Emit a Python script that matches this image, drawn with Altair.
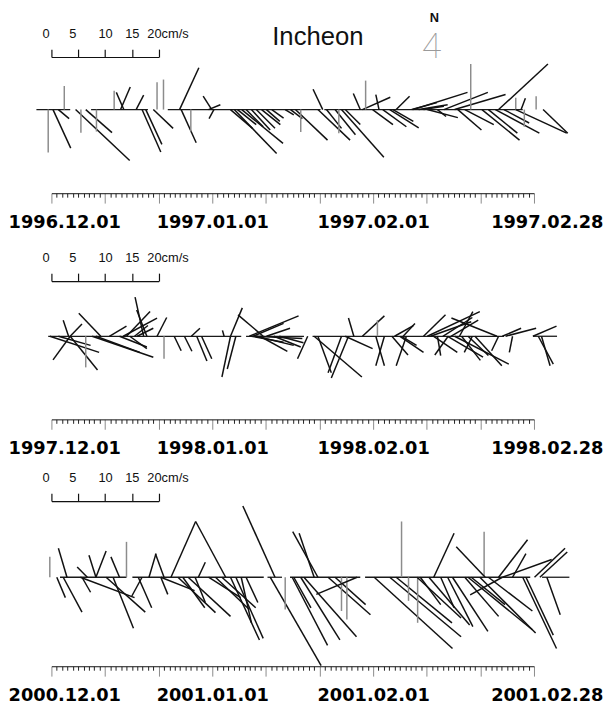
import altair as alt
import pandas as pd

# ---------------- data (days since 1 Dec, east / north components in cm/s) -------------
# Panel 1 : 1996.12.01 - 1997.02.28
p1_day = [-0.6, 0.3, 1.3, 2.4, 4.5, 5.5, 6.4, 8.4, 11.7, 12.9, 13.5, 15.8, 16.9, 17.6, 19.0, 19.7,
          20.9, 23.9, 24.2, 26.0, 29.3, 29.9, 30.3, 33.4, 34.1, 34.7, 35.5, 36.3, 37.3, 38.2, 39.2,
          40.1, 41.1, 43.6, 44.6, 45.5, 46.5, 49.7, 50.6, 51.3, 52.9, 53.6, 54.1, 54.8, 57.6, 58.0,
          58.6, 59.9, 61.1, 61.8, 63.1, 63.7, 64.3, 67.2, 67.5, 68.5, 69.4, 70.1, 72.0, 73.2, 75.2,
          75.8, 77.1, 78.2, 80.3, 81.5, 82.8, 83.4, 84.4, 86.6, 86.6, 87.6, 88.2, 90.4, 91.7]
p1_u = [0, 3.3, 2.0, 0, 10.1, 0, 4.9, 0, 0, 1.8, -1.4, 1.4, 3.5, 3.0, 3.7, 0,
        0, 3.6, 2.8, 0, 2.2, -1.6, -0.9, 4.1, 7.9, 3.5, 7.7, 3.2, 3.5, 3.5, 3.5,
        2.5, 2.2, 1.6, 2.2, 6.0, 0, 6.0, -1.8, 2.8, 3.8, 0, 7.9, 2.8, -1.3, 5.2,
        0, 3.8, -0.6, 4.4, 5.4, 3.8, 2.5, 4.7, 10.1, 5.4, 3.8, 5.7, 1.6, 8.2, 9.5,
        4.4, 5.4, 0, 7.0, 5.4, 8.2, 9.2, 4.7, 0, 9.5, 0.8, 0, 0, 4.6]
p1_v = [-8.0, -7.2, -1.7, 4.4, -9.5, -4.3, -4.3, -4.1, 3.5, 4.2, 3.2, 2.7, -7.9, -6.5, -3.5, 5.1,
        5.6, 7.8, -6.2, -4.1, 0.9, 2.5, -1.7, -3.5, -8.2, -2.8, -6.3, -3.2, -3.8, -3.5, -2.8,
        -2.2, -1.6, -1.0, -1.7, -5.7, -4.2, -5.7, 3.8, -3.5, -4.7, -4.4, -8.9, -2.8, 3.0, 2.3,
        5.4, -2.8, 2.8, -3.2, -3.4, -2.2, 2.5, 1.3, 3.2, 0.9, 0.6, -1.5, -1.3, 3.2, 2.8,
        -3.8, -2.8, 8.5, -5.7, -4.4, -4.4, 8.5, -2.5, 2.2, -4.4, 2.1, -3.2, 2.5, -4.4]
p1_base_start = [-2.8, 7.4, 21.7, 50.9]
p1_base_end = [3.5, 18.0, 50.2, 87.9]
p1_labels = ["1996.12.01", "1997.01.01", "1997.02.01", "1997.02.28"]
p1_range = [-15.6, 9.8]

# Panel 2 : 1997.12.01 - 1998.02.28
p2_day = [-0.3, 1.3, 3.2, 3.5, 3.5, 3.5, 6.4, 7.6, 8.3, 9.2, 10.8, 12.7, 13.4, 14.0, 14.6, 17.2,
          17.8, 19.7, 21.0, 22.9, 24.8, 26.1, 27.1, 28.0, 32.2, 33.4, 34.4, 33.4, 39.5, 36.9,
          37.6, 37.3, 38.2, 38.9, 40.1, 37.9, 47.8, 49.0, 49.7, 54.1, 55.4, 54.8, 56.4, 58.0,
          60.8, 60.5, 62.1, 65.0, 66.2, 65.6, 65.3, 69.4, 70.1, 70.7, 74.5, 76.1, 71.3, 72.0,
          73.9, 75.2, 77.7, 83.1, 83.4, 86.0, 84.1, 84.7, 89.8, 90.8, 91.4,
          15.5, 16.0, 41.5, 42.5, 63.5, 64.0, 73.0, 74.0, 76.5, 78.5, 79.0]
p2_u = [9.2, 6.0, -1.0, -3.2, 2.2, 5.1, 0, 11.4, 8.2, -4.1, 3.2, 5.1, 6.3, 4.4, 3.2, -1.6,
        -1.9, 1.8, 0, 1.3, 1.4, 1.6, 1.9, 1.9, -0.3, -1.6, -1.6, 2.2, -4.7, 9.2,
        5.7, 6.0, 7.0, 5.1, 4.4, 8.9, -1.9, 8.9, 2.5, -2.5, -3.2, 5.1, -1.0, 4.1,
        0, 1.6, -1.6, 4.4, -1.9, 2.2, 2.8, 4.1, 9.8, 7.6, 5.1, 2.5, 4.4, 0.6,
        6.6, 10.1, 3.8, -8.5, -1.3, -0.6, 3.5, 5.7, 4.4, 2.8, 1.6,
        2.5, 3.0, 5.0, 4.5, 3.0, 3.5, 5.5, -2.5, 3.5, -1.5, 5.0]
p2_v = [-3.0, -1.7, 3.0, -4.4, 2.3, -6.3, -5.8, -3.9, -3.0, 4.3, 1.9, -2.0, 3.4, 4.6, -2.3, 7.3,
        4.9, 3.5, -4.2, -2.7, -2.8, 1.5, -4.6, -4.2, 1.1, -7.6, -6.1, 5.3, 4.0, 3.8,
        2.4, -1.1, -1.7, -2.8, 1.5, -0.4, -4.2, -7.6, -6.8, -6.8, -7.8, -2.3, 3.4, 3.8,
        3.0, -5.5, -5.5, -3.0, -5.5, 2.4, -1.7, 4.0, 4.6, 2.7, 3.0, 4.6, -3.0, -3.6,
        -3.9, -5.2, -3.6, 3.4, -2.7, -3.0, 1.5, 1.5, 1.9, -5.2, -5.5,
        2.0, 1.5, -2.0, -1.2, -3.5, 2.0, 3.5, -3.5, -4.5, -3.0, -5.5]
p2_base_start = [-0.6, 36.3, 48.7, 89.8]
p2_base_end = [35.4, 47.1, 84.4, 94.3]
p2_labels = ["1997.12.01", "1998.01.01", "1998.02.01", "1998.02.28"]
p2_range = [-15.5, 10.3]

# Panel 3 : 2000.12.01 - 2001.02.28
p3_day = [-0.3, 1.0, 2.2, 2.9, 5.4, 5.7, 6.7, 8.3, 8.3, 10.2, 11.5, 12.7, 14.0, 16.9, 16.2, 18.2,
          21.0, 20.4, 20.4, 22.3, 32.5, 27.4, 23.6, 24.5, 25.5, 26.8, 29.3, 30.6, 31.8, 33.4,
          34.4, 35.4, 36.3, 40.8, 41.7, 43.6, 44.9, 45.2, 46.5, 47.1, 49.0, 49.7, 51.6, 52.9,
          54.1, 55.1, 57.0, 60.2, 63.1, 64.3, 65.3, 66.6, 68.3, 68.2, 68.8, 70.4, 71.3, 72.6,
          73.9, 74.8, 77.1, 77.7, 78.3, 79.9, 80.7, 80.9, 81.5, 83.4, 84.1, 84.1, 86.0, 87.9,
          88.5, 90.1, 91.1, 92.4]
p3_u = [0, 1.6, 3.5, -1.6, 10.1, 1.6, -1.9, -1.3, 1.9, 7.3, 3.8, -1.6, 0, -1.9, 2.5, 1.3,
        -1.6, 1.3, 6.3, 4.6, -5.6, 1.3, 7.0, 4.1, 7.9, 1.9, 6.0, 6.3, 6.3, 5.4,
        5.1, 1.9, 2.2, 9.5, -6.0, 0, 6.6, 3.2, 7.3, 9.8, -2.8, -4.7, 7.9, 5.7,
        0, 0, -7.6, 14.6, 13.3, 10.4, 0, 0, 0, 8.2, 3.8, 7.6, 3.8, 2.5,
        4.7, 6.6, 6.3, 12.0, 6.3, 10.4, 0, -5.4, 8.2, 5.4, 9.2, -6.0, 2.5, 6.3,
        5.1, 5.7, 5.1, 2.5]
p3_v = [3.8, -3.8, -6.5, 5.4, -3.8, -2.8, 1.9, 4.1, 4.9, -6.5, -9.5, 3.8, 6.6, -3.5, -5.7, 4.4,
        4.4, -3.2, -2.5, 10.4, 10.4, 2.8, -6.6, -5.7, -7.3, -4.7, -3.8, -6.0, -5.7, -11.7,
        -11.4, -8.5, -4.7, -16.5, 13.3, -6.0, -12.7, -5.7, -11.7, -11.1, 8.2, 8.5, -7.0, -5.1,
        -6.3, -7.9, -3.2, -13.3, -11.1, -8.5, 10.4, -4.4, -8.5, -7.6, -5.1, -8.9, 8.2, -5.7,
        -9.2, -10.1, -7.3, -9.8, -5.1, -10.4, 8.5, 5.7, -6.3, 7.0, 3.3, -3.3, 4.4, -13.3,
        -10.8, 5.4, 4.7, -7.0]
p3_base_start = [1.6, 15.1, 40.3, 44.5, 58.5, 91.5]
p3_base_end = [14.0, 39.6, 43.0, 57.6, 89.3, 96.6]
p3_labels = ["2000.12.01", "2001.01.01", "2001.02.01", "2001.02.28"]
p3_range = [-16.6, 14.2]

label_days = [0, 30, 60, 90]
scale_ticks = [0, 5, 10, 15, 20]
annot_text = ["Incheon", "N", "4"]

# ---------------- chart -------------------------------------------------------
W = 489
SPAN = 90
PPU = W / SPAN  # same pixel size for one day and one cm/s


def label_expr(labels):
    parts = [f"datum.value === {d} ? '{t}'" for d, t in zip(label_days, labels)]
    return " : ".join(parts) + " : ''"


def panel(day, u, v, bs, be, labels, yr, title=False):
    H = (yr[1] - yr[0]) * PPU
    xs = alt.Scale(domain=[0, SPAN], nice=False, zero=False)
    ys = alt.Scale(domain=yr, nice=False, zero=False)
    major = "datum.value % 10 === 0"
    bottom_axis = alt.Axis(
        values=list(range(0, SPAN + 1)),
        tickSize={"condition": {"test": major, "value": 10}, "value": 4},
        tickColor={"condition": {"test": major, "value": "#8a8a8a"}, "value": "#222222"},
        tickWidth=1,
        domainColor="#111111",
        domainWidth=1,
        labelExpr=label_expr(labels),
        labelOverlap=False,
        labelBound=False,
        labelFlush=False,
        labelFont="DejaVu Sans",
        labelFontSize=18,
        labelFontWeight="bold",
        labelColor="#000000",
        labelOffset={"condition": {"test": "datum.value === 0 || datum.value === 90", "value": 13}, "value": 0},
        labelPadding=11,
        grid=False,
        title=None,
    )
    sticks = alt.Chart(pd.DataFrame({"day": day, "u": u, "v": v})).transform_calculate(
        tip="datum.day + datum.u", zero="0"
    ).mark_rule(strokeWidth=1.5).encode(
        x=alt.X("day:Q", scale=xs, axis=bottom_axis),
        x2="tip:Q",
        y=alt.Y("zero:Q", scale=ys, axis=None),
        y2="v:Q",
        color=alt.condition("datum.u == 0", alt.value("#8c8c8c"), alt.value("#111111")),
    )
    base = alt.Chart(pd.DataFrame({"start": bs, "end": be})).transform_calculate(
        zero="0"
    ).mark_rule(strokeWidth=1.3, color="#1a1a1a").encode(
        x=alt.X("start:Q", scale=xs, axis=bottom_axis),
        x2="end:Q",
        y=alt.Y("zero:Q", scale=ys, axis=None),
    )
    parts = [base, sticks]
    if title:
        adf = pd.DataFrame({"t": annot_text})
        parts.append(alt.Chart(adf).transform_filter("datum.t == 'Incheon'").mark_text(
            font="Liberation Sans", fontSize=26, color="#111111", align="center", baseline="middle"
        ).encode(text="t:N", x=alt.value(270), y=alt.value(-20)))
        parts.append(alt.Chart(adf).transform_filter("datum.t == 'N'").mark_text(
            font="Liberation Sans", fontSize=13, fontWeight="bold", color="#111111", align="center", baseline="middle"
        ).encode(text="t:N", x=alt.value(388), y=alt.value(-40)))
        parts.append(alt.Chart(adf).transform_filter("datum.t == '4'").mark_text(
            font="Roboto", fontSize=36, fontWeight=100, color="#9a9a9a", align="center", baseline="middle"
        ).encode(text="t:N", x=alt.value(385), y=alt.value(-10)))
    inner = alt.layer(*parts)

    top_axis = alt.Axis(
        orient="top",
        values=scale_ticks,
        tickSize=8,
        tickColor="#111111",
        tickWidth=1.2,
        domainColor="#111111",
        domainWidth=1.2,
        labelExpr="datum.value === 20 ? '20cm/s' : datum.label",
        labelAlign={"condition": {"test": "datum.value === 20", "value": "left"}, "value": "center"},
        labelOffset={"condition": [{"test": "datum.value === 20", "value": -12},
                                   {"test": "datum.value < 10", "value": -6}], "value": 0},
        labelFont="Liberation Sans",
        labelFontSize=13,
        labelPadding=9,
        labelColor="#111111",
        labelOverlap=False,
        labelBound=False,
        labelFlush=False,
        grid=False,
        title=None,
    )
    bar = alt.Chart(pd.DataFrame({"cm": scale_ticks})).mark_point(opacity=0).encode(
        x=alt.X("cm:Q", scale=alt.Scale(domain=[0, 20], range=[0, 20 * PPU], nice=False, zero=False),
                axis=top_axis)
    )
    return alt.layer(inner, bar).resolve_scale(x="independent").properties(
        width=W, height=H, view=alt.ViewBackground(stroke=None, strokeWidth=0)
    )


upper = alt.vconcat(
    panel(p1_day, p1_u, p1_v, p1_base_start, p1_base_end, p1_labels, p1_range, title=True),
    panel(p2_day, p2_u, p2_v, p2_base_start, p2_base_end, p2_labels, p2_range),
    spacing=19,
)
chart = alt.vconcat(
    upper,
    panel(p3_day, p3_u, p3_v, p3_base_start, p3_base_end, p3_labels, p3_range),
    spacing=13,
).properties(
    padding={"left": 0, "top": -1, "right": 5, "bottom": 0},
    background="white",
).configure_view(stroke=None, strokeWidth=0)

chart.save("out.html", embed_options={"renderer": "svg", "actions": False})
